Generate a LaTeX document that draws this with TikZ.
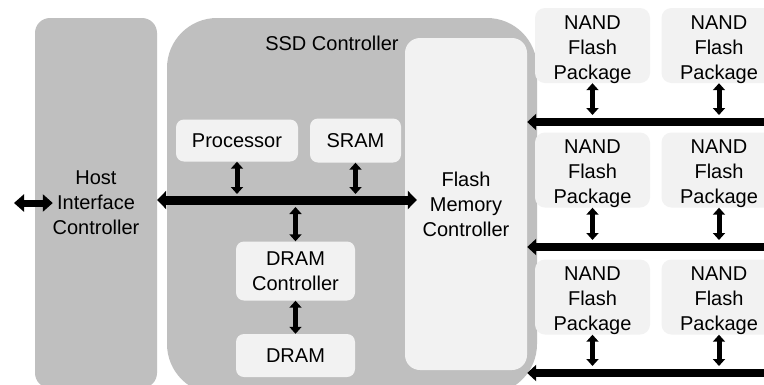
\documentclass[tikz,border=0pt]{standalone}
\usepackage{fontspec}
\setmainfont{Liberation Sans}
\usetikzlibrary{arrows.meta,calc}

\definecolor{blockgray}{HTML}{BFBFBF}
\definecolor{cellgray}{HTML}{F2F2F2}

\tikzset{
  txt/.style={font=\fontsize{20}{25}\selectfont, text=black, align=center, inner sep=0pt},
  bigblock/.style={txt, rectangle, fill=blockgray, rounded corners=15pt},
  cell/.style={txt, rectangle, fill=cellgray, rounded corners=8pt},
  nandcell/.style={cell, rounded corners=10pt, minimum width=115pt, minimum height=75pt,
    label={[txt, yshift=-4pt]center:NAND\\Flash\\Package}},
  bustip/.tip={Triangle[width=18pt,length=9pt]},
  hosttip/.tip={Triangle[width=17pt,length=10pt]},
  chantip/.tip={Triangle[width=16pt,length=9pt]},
  linktip/.tip={Triangle[width=12pt,length=7pt]},
  mainbus/.style={line width=9pt, bustip-bustip},
  hostlink/.style={line width=7pt, hosttip-hosttip},
  channel/.style={line width=8pt, -chantip},
  link/.style={line width=5pt, linktip-linktip},
}

\begin{document}
\begin{tikzpicture}[x=1pt,y=-1pt]
  \useasboundingbox (0,0) rectangle (764,384);
  \fill[white] (0,0) rectangle (764,384);

  % host side
  \node[bigblock, minimum width=122pt, minimum height=370pt] (host) at (96,203)
    {Host\\Interface\\Controller};

  % controller body
  \node[bigblock, rounded corners=50pt, minimum width=370pt, minimum height=376pt] (ssd) at (352,206) {};
  \node[txt] (ssdlabel) at (332,43) {SSD Controller};

  \node[cell, rounded corners=15pt, minimum width=122pt, minimum height=332pt] (fmc) at (466,204)
    {Flash\\Memory\\Controller};

  \node[cell, minimum width=122pt, minimum height=42pt] (proc) at (237,140.5) {Processor};
  \node[cell, minimum width=91pt, minimum height=44pt] (sram) at (355.5,140.5) {SRAM};
  \node[cell, minimum width=119pt, minimum height=59pt] (dramc) at (295.5,271) {DRAM\\Controller};
  \node[cell, minimum width=119pt, minimum height=43pt] (dram) at (295.5,355.5) {DRAM};

  % flash packages
  \foreach \r/\y in {1/45.5, 2/170, 3/297} {
    \node[nandcell] (nand\r a) at (592.5,\y) {};
    \node[nandcell] (nand\r b) at (719,\y) {};
  }

  % internal bus
  \coordinate (busy) at (0,200);
  \coordinate (hostext) at (14,203);
  \draw[mainbus] (host.east |- busy) -- ($(fmc.west |- busy)+(12,0)$);
  \draw[hostlink] (hostext) -- ($(host.west |- hostext)+(18,0)$);

  \draw[link, shorten >=6pt] (proc.south) -- (proc.south |- busy);
  \draw[link, shorten >=6pt] (sram.south) -- (sram.south |- busy);
  \draw[link, shorten <=7pt] (dramc.north |- busy) -- (dramc.north);
  \draw[link] (dramc.south) -- (dram.north);

  % flash channels
  \foreach \r/\y in {1/122, 2/247, 3/373} {
    \coordinate (ch\r) at (770,\y);
    \draw[channel] (ch\r) -- (fmc.east |- ch\r);
    \draw[link, shorten >=7pt] (nand\r a.south) -- (nand\r a.south |- ch\r);
    \draw[link, shorten >=7pt] (nand\r b.south) -- (nand\r b.south |- ch\r);
  }
\end{tikzpicture}
\end{document}
